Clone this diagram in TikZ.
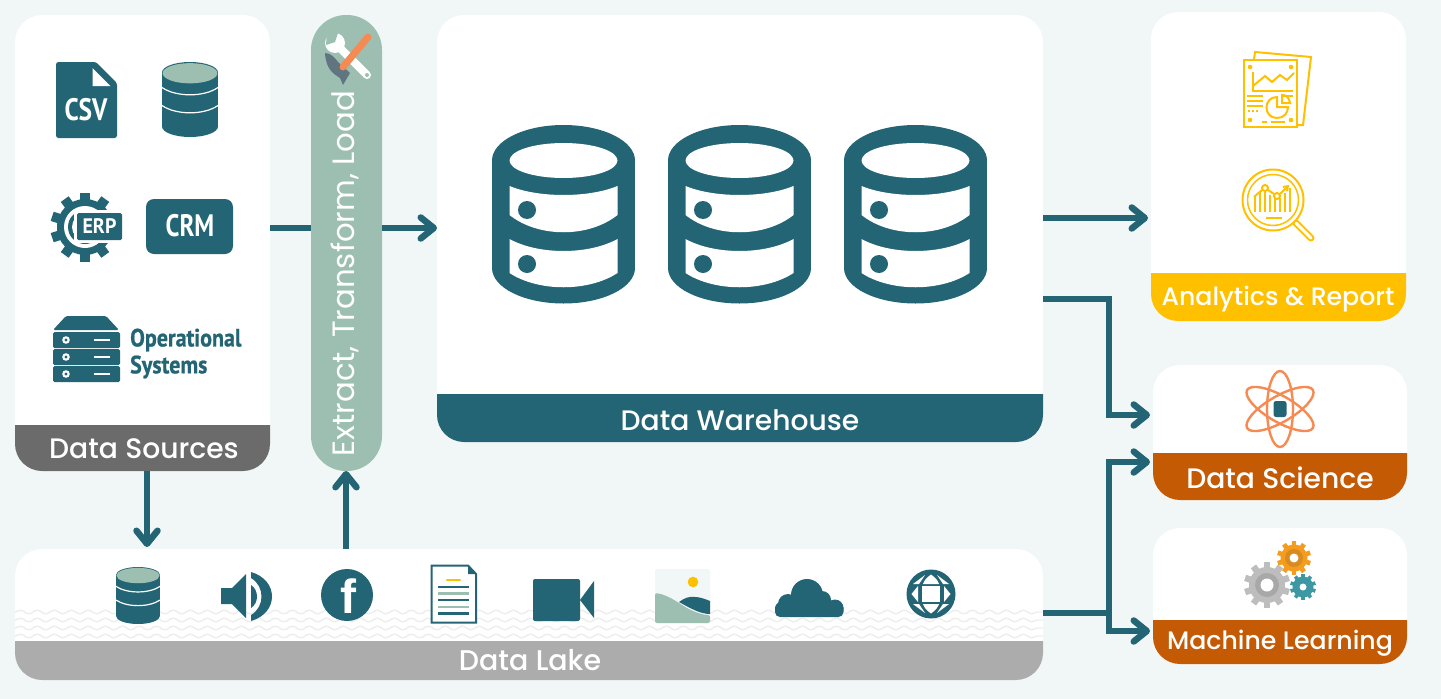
\documentclass[tikz,border=0pt]{standalone}
\usepackage{fontspec}
\setmainfont{Poppins Medium}
\newfontfamily\popr{Poppins}
\newfontfamily\condf{PT Sans}
\newfontfamily\condm[FakeBold=0.8]{PT Sans}
\newfontfamily\arialf{Liberation Sans}
\usetikzlibrary{arrows.meta,decorations.pathmorphing,calc}
\definecolor{bgc}{HTML}{F1F6F7}
\definecolor{teal}{HTML}{246575}
\definecolor{sage}{HTML}{9DBFB2}
\definecolor{ambr}{HTML}{FFC000}
\definecolor{rust}{HTML}{C55A04}
\definecolor{slate}{HTML}{6B6B6B}
\definecolor{lakeg}{HTML}{ADACAD}
\definecolor{coral}{HTML}{F58B53}
\definecolor{hamg}{HTML}{607580}
\definecolor{gearo}{HTML}{F39C1F}
\definecolor{gearoo}{HTML}{D98B20}
\definecolor{geart}{HTML}{3D98A3}
\definecolor{gearg}{HTML}{BDBDBD}
\definecolor{geargg}{HTML}{A8A8A8}
\tikzset{
  panelbox/.style={fill=white,draw=none,inner sep=0pt,outer sep=0pt},
  foot/.style={text=white,inner sep=0pt,font=\fontsize{28.2}{30}\selectfont},
  conn/.style={draw=teal,line width=6.5pt,line join=miter,
     -{Straight Barb[length=13pt,width=21pt,round,line width=0pt 1]}},
  plainconn/.style={draw=teal,line width=6.5pt},
  cond/.style={text=teal,inner sep=0pt,xscale=.88,font=\condm\bfseries\fontsize{25}{26}\selectfont},
  yl/.style={draw=ambr,line width=2pt},
}
\newcommand\footband[6]{\fill[#5] (#1,#3) -- (#2,#3) -- (#2,{#4-#6})
  .. controls (#2,{#4-.45*#6}) and ({#2-.45*#6},#4) .. ({#2-#6},#4) -- ({#1+#6},#4)
  .. controls ({#1+.45*#6},#4) and (#1,{#4-.45*#6}) .. (#1,{#4-#6}) -- cycle;}
\newcommand\bigdb[1]{\begin{scope}[shift={(#1,0)}]
  \fill[teal] (0,160.5) ellipse (71.5 and 35.5);
  \fill[teal] (0,268) ellipse (71.5 and 35.5);
  \fill[teal] (-71.5,160.5) rectangle (71.5,268);
  \fill[white] (0,160.5) ellipse (54 and 17.5);
  \fill[white] (-54,186) .. controls (-25,198) and (25,198) .. (54,186) -- (54,215)
     .. controls (25,238) and (-25,238) .. (-54,215) -- cycle;
  \fill[white] (-54,239) .. controls (-25,255) and (25,255) .. (54,239) -- (54,273)
     .. controls (25,292) and (-25,292) .. (-54,273) -- cycle;
  \fill[teal] (-36.5,210) circle (9);
  \fill[teal] (-36.5,264) circle (9);
\end{scope}}
\newcommand\smalldb[4]{\begin{scope}[shift={(#1,#2)},x=#3pt,y=-#4pt]
  \fill[teal] (0,.14) ellipse (1 and .14);
  \fill[teal] (0,.86) ellipse (1 and .14);
  \fill[teal] (-1,.14) rectangle (1,.86);
  \fill[sage] (0,.15) ellipse (.98 and .135);
  \draw[white,line width=1.2pt] (-1,.34) .. controls (-.5,.47) and (.5,.47) .. (1,.34);
  \draw[white,line width=1.2pt] (-1,.58) .. controls (-.5,.71) and (.5,.71) .. (1,.58);
\end{scope}}
\newcommand\cog[6]{\fill[#6] (#1,#2) circle (#4);
  \pgfmathsetmacro\stp{360/#5}
  \foreach \k in {1,...,#5}{\pgfmathsetmacro\ang{\k*\stp}
    \fill[#6,rotate around={\ang:(#1,#2)}] ({#1-#3*.14},#2-#3) rectangle ({#1+#3*.14},#2);}}
\begin{document}
\begin{tikzpicture}[x=1pt,y=-1pt]
\useasboundingbox (0,0) rectangle (1441,699);
\fill[bgc] (0,0) rectangle (1441,699);

% panels
\node[panelbox,rounded corners=27pt,minimum width=255pt,minimum height=456pt] (ds) at (142.5,243) {};
\node[panelbox,rounded corners=35pt,minimum width=71pt,minimum height=456pt,fill=sage] (etl) at (346.5,243) {};
\node[panelbox,rounded corners=27pt,minimum width=606pt,minimum height=427pt] (dw) at (740,228.5) {};
\node[panelbox,rounded corners=27pt,minimum width=1028pt,minimum height=131pt] (dl) at (529,614.5) {};
\node[panelbox,rounded corners=27pt,minimum width=255pt,minimum height=309pt] (ar) at (1278.5,166.5) {};
\node[panelbox,rounded corners=27pt,minimum width=254pt,minimum height=135pt] (dsc) at (1280,432.5) {};
\node[panelbox,rounded corners=27pt,minimum width=254pt,minimum height=136pt] (ml) at (1280,596) {};

% lake waves
\foreach \yy in {612,620,628,636}{
  \draw[draw=black!7,line width=1.3pt,decorate,decoration={snake,segment length=17pt,amplitude=1.8pt}] (15,\yy) -- (1043,\yy);}

% footers
\footband{15}{270}{425}{471}{slate}{27}
\footband{437}{1043}{394}{442}{teal}{27}
\footband{15}{1043}{641}{680}{lakeg}{27}
\footband{1151}{1406}{273}{321}{ambr}{27}
\footband{1153}{1407}{453}{500}{rust}{27}
\footband{1153}{1407}{620}{664}{rust}{27}
\node[foot] (tds) at (144,449) {Data Sources};
\node[foot] (tdw) at (740,420) {Data Warehouse};
\node[foot,font=\fontsize{28.5}{30}\selectfont] (tdl) at (530,660) {Data Lake};
\node[foot,font=\fontsize{25.2}{30}\selectfont] (tar) at (1278,299) {Analytics \& Report};
\node[foot] (tdsc) at (1280,478) {Data Science};
\node[foot,font=\fontsize{25.2}{30}\selectfont] (tml) at (1280,643) {Machine Learning};
\node[foot,rotate=90,font=\popr\fontsize{30.8}{30}\selectfont] (tetl) at (345,273.5) {Extract, Transform, Load};

% connectors
\draw[plainconn] (ds.east |- 0,228) -- (etl.west |- 0,228);
\draw[conn] (etl.east |- 0,228) -- (dw.west |- 0,228);
\draw[conn,shorten >=3pt] (dw.east |- 0,218) -- (ar.west |- 0,218);
\draw[conn,shorten >=3pt] (dw.east |- 0,299) -- (1109,299) -- (1109,415) -- (dsc.west |- 0,415);
\draw[conn,shorten >=3pt] (dl.east |- 0,613) -- (1109,613) -- (1109,462) -- (dsc.west |- 0,462);
\draw[conn,shorten >=3pt] (1109,613) -- (1109,631) -- (ml.west |- 0,631);
\draw[conn,shorten >=2pt] (ds.south -| 147,0) -- (dl.north -| 147,0);
\draw[conn] (dl.north -| 346,0) -- (etl.south -| 346,0);

% warehouse
\bigdb{563.5}\bigdb{739.5}\bigdb{915.5}

% CSV
\fill[teal,rounded corners=2.5pt] (56,62) -- (96,62) -- (117,83) -- (117,138) -- (56,138) -- cycle;
\fill[white] (92.5,68) -- (92.5,86) -- (110.5,86) -- cycle;
\node[text=white,inner sep=0pt,xscale=.82,font=\condf\bfseries\fontsize{31}{32}\selectfont] (tcsv) at (86,110) {CSV};
\smalldb{190}{62}{28}{75}
% ERP
\cog{85}{227}{34.5}{28}{10}{teal}
\fill[white] (85,227) circle (21);
\fill[teal] (85,227) circle (17);
\fill[white] (85,227) circle (13);
\fill[white] (74,210) rectangle (124,243);
\fill[teal,rounded corners=1.5pt] (77,213) rectangle (122,240);
\node[text=white,inner sep=0pt,xscale=.95,font=\condf\bfseries\fontsize{21}{22}\selectfont] (terp) at (99.5,226.5) {ERP};
% CRM
\node[fill=teal,rounded corners=8pt,minimum width=87pt,minimum height=55pt,inner sep=0pt] (crmbox) at (189.5,226.5) {};
\node[text=white,inner sep=0pt,xscale=.8,font=\condf\bfseries\fontsize{31}{32}\selectfont] (tcrm) at (190,226) {CRM};
% server
\fill[teal,rounded corners=1.5pt] (53,330) -- (66,316) -- (106,316) -- (119,330) -- cycle;
\foreach \yy in {332,349,366}{
  \fill[teal,rounded corners=1.5pt] (53,\yy) rectangle (120,\yy+16);
  \fill[white] (66,\yy+8) circle (3.8);
  \fill[teal] (66,\yy+8) circle (1.6);
  \fill[white] (94,\yy+7) rectangle (110,\yy+9);}
\node[cond,anchor=west] (top) at (130,340) {Operational};
\node[cond,anchor=west] (tsy) at (130,367) {Systems};

% ETL icon
\fill[hamg] (325,53) .. controls (331,53) and (335,58) .. (338,62) -- (350,73) -- (343,85) -- (340,78) .. controls (334,74) and (326,70) .. (325,53) -- cycle;
\draw[white,line width=8pt,line cap=round] (340,48) -- (367,75);
\fill[white] (335,43) circle (10);
\fill[sage] (327,31) -- (338,33) -- (335,42) -- (326,45) -- cycle;
\fill[sage] (367,75) circle (2);
\draw[draw=coral,line width=7pt,line cap=round] (343,67) -- (368,37);

% lake icons
\smalldb{138}{567}{22}{57}
\fill[teal] (221,588) -- (232,588) -- (246,574) -- (246,618) -- (232,604) -- (221,604) -- cycle;
\fill[teal] (251,585) .. controls (259,590) and (259,603) .. (251,608) -- cycle;
\fill[teal] (251,572) .. controls (279,580) and (279,613) .. (251,621) -- (251,615) .. controls (265,607) and (265,586) .. (251,578) -- cycle;
\node[fill=teal,circle,minimum size=52pt,inner sep=0pt] (fb) at (347,595) {};
\node[text=white,inner sep=0pt,font=\arialf\bfseries\fontsize{48}{48}\selectfont] (tf) at (348,596) {f};
\draw[teal,line width=2pt,fill=white] (431.5,565.5) -- (468,565.5) -- (476,574) -- (476,622.5) -- (431.5,622.5) -- cycle;
\fill[teal] (468,565.5) -- (476,574) -- (468,574) -- cycle;
\draw[ambr,line width=2.5pt,line cap=round] (447,580) -- (460,580);
\foreach \yy/\cc in {587/teal,593.5/sage,600/teal,607/sage,613.5/teal}{\draw[\cc,line width=2.5pt] (438,\yy) -- (469,\yy);}
\fill[teal,rounded corners=2pt] (533,579) rectangle (580,621);
\fill[teal] (580,600) -- (594,581) -- (594,618) -- cycle;
\fill[bgc,rounded corners=2pt] (655,569) rectangle (710,623);
\fill[ambr] (693,582) circle (5.3);
\fill[teal] (679,602) .. controls (684,598) and (690,596) .. (695,597) .. controls (700,597) and (705,599) .. (710,601) -- (710,614) .. controls (700,614) and (690,608) .. (679,602) -- cycle;
\fill[sage,rounded corners=2pt] (655,593) .. controls (670,595) and (682,606) .. (693,611) .. controls (698,613) and (704,615) .. (710,615) -- (710,623) -- (655,623) -- cycle;
\fill[teal] (807,595) circle (16);
\fill[teal] (788,604) circle (10);
\fill[teal] (822,600) circle (9);
\fill[teal] (835,608) circle (8.5);
\fill[teal] (783,609) circle (8);
\fill[teal,rounded corners=5pt] (775,603) rectangle (843.5,617);
\fill[teal] (931,594) circle (24.5);
\fill[white] (922,586) rectangle (940,602);
\foreach \sy in {-1,1}{
  \fill[white] (931,{594+\sy*19.5}) .. controls (936,{594+\sy*16}) and (938,{594+\sy*13}) .. (939,{594+\sy*10}) -- (923,{594+\sy*10}) .. controls (924,{594+\sy*13}) and (926,{594+\sy*16}) .. cycle;
  \fill[white] ({931+\sy*19.5},594) -- ({931+\sy*13},586) -- ({931+\sy*13},602) -- cycle;
  \foreach \sx in {-1,1}{
    \fill[white] ({931+\sx*6},{594+\sy*19}) -- ({931+\sx*12},{594+\sy*10}) -- ({931+\sx*18},{594+\sy*10}) -- cycle;}}

% report icon
\draw[yl,line join=miter] (1297,125) -- (1303,125) -- (1311,57) -- (1255,52) -- (1254,59);
\draw[yl,fill=white] (1243.5,60) rectangle (1297,127);
\foreach \xx/\yy in {1250/67,1291/67,1250/120,1291/120}{\fill[ambr] (\xx,\yy) circle (2.3);}
\draw[yl] (1252.5,72) -- (1252.5,90.5) -- (1293,90.5);
\draw[yl] (1253,86) -- (1265,76) -- (1272,82) -- (1280,75) -- (1287,80) -- (1294,73);
\foreach \yy in {96,101,106}{\draw[yl] (1247,\yy) -- (1263,\yy);}
\draw[yl,dotted,line width=2pt] (1248,111) -- (1260,111);
\draw[yl] (1277,97) .. controls (1263,97) and (1263,118) .. (1277,118) .. controls (1284,118) and (1288,113) .. (1288,107) -- (1277,107) -- cycle;
\draw[yl] (1282,103) -- (1282,95) .. controls (1287,95) and (1289,98) .. (1290,103) -- cycle;
\draw[yl] (1283,95.5) -- (1293,95.5);
\draw[yl] (1262,122) -- (1267,122);
\draw[yl] (1271,122) -- (1285,122);

% magnifier icon
\draw[ambr,line width=7pt,line cap=round] (1296,223) -- (1311,238);
\draw[white,line width=3pt,line cap=round] (1296,223) -- (1311,238);
\draw[yl,fill=white] (1273,200) circle (30.5);
\draw[ambr,line width=1.5pt] (1273,200) circle (25.5);
\foreach \xx/\yy in {1255/196,1260/192,1265/187,1270/195,1275/193,1280/198,1285/193,1290/188}{\draw[ambr,line width=1.6pt] (\xx,212) -- (\xx,\yy);}
\draw[ambr,line width=2pt,fill=white] (1265,188) circle (3);
\draw[ambr,line width=2pt,fill=white] (1277,196) circle (3);
\draw[yl] (1254,197) -- (1262,190);
\draw[yl] (1268,190) -- (1274,194);
\draw[yl,-{Straight Barb[length=4pt,width=6pt]}] (1280,194) -- (1289,185);
\draw[yl] (1266,218) -- (1282,218);

% atom icon
\foreach \rr in {0,60,-60}{\draw[coral,line width=2.4pt,rotate around={\rr:(1280,409)}] (1280,409) ellipse (13 and 38);}
\fill[teal,rounded corners=2.5pt] (1273.5,401) rectangle (1286.5,417);

% gears
\cog{1267}{585}{23}{18}{10}{gearg}
\fill[geargg] (1267,585) circle (12);
\fill[white] (1267,585) circle (6.5);
\cog{1294}{558}{17}{13.5}{10}{gearo}
\fill[gearoo] (1294,558) circle (9);
\fill[white] (1294,558) circle (4.5);
\cog{1303}{587}{13}{10.5}{10}{geart}
\fill[white] (1303,587) circle (3.5);
\end{tikzpicture}
\end{document}
